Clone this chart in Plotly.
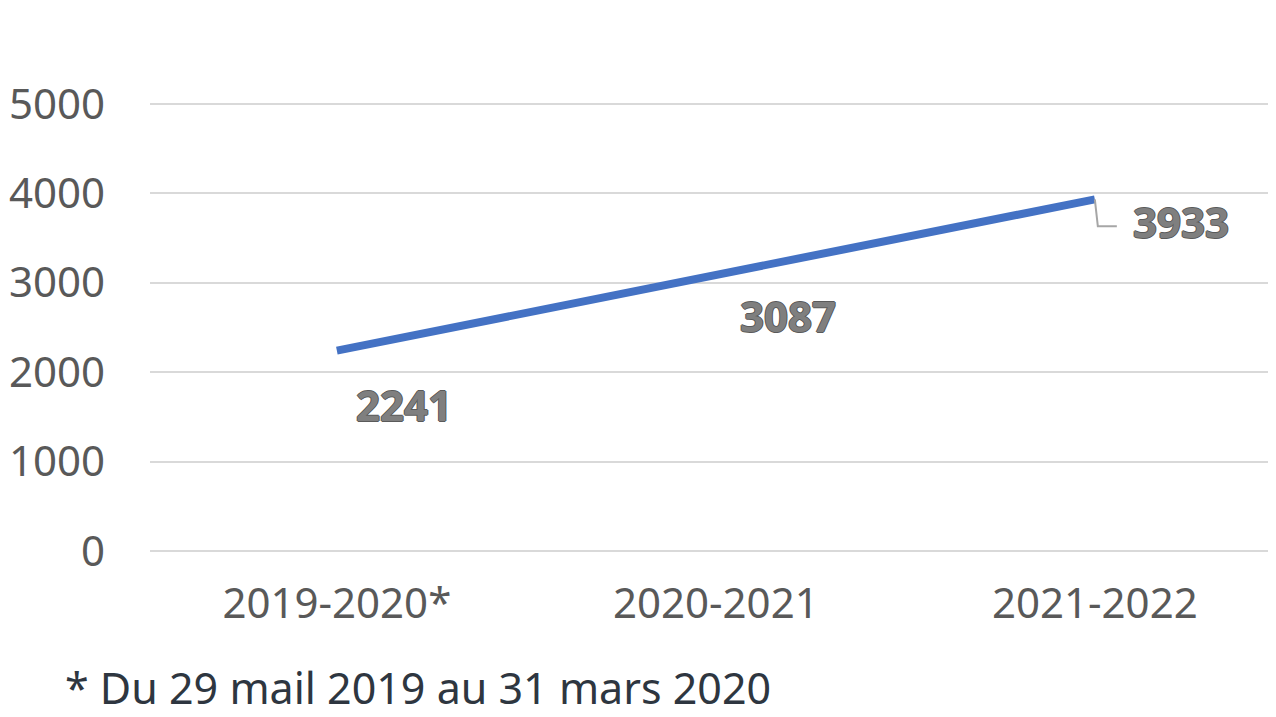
import plotly.graph_objects as go

# data
years = ["2019-2020*", "2020-2021", "2021-2022"]
counts = [2241, 3087, 3933]
y_ticks = [0, 1000, 2000, 3000, 4000, 5000]
footnote = "* Du 29 mail 2019 au 31 mars 2020"

font_name = "Noto Sans"

fig = go.Figure()
fig.add_trace(go.Scatter(
    x=list(range(len(years))), y=counts, mode="lines",
    line=dict(color="#4472C4", width=8), hoverinfo="skip",
))

# label offsets in pixels (right, up)
shifts = [(67, -54), (72, -41), (86, -22)]
outline = "1px 0 0 #5a5a5a, -1px 0 0 #5a5a5a, 0 1px 0 #5a5a5a, 0 -1px 0 #5a5a5a"
for i, v in enumerate(counts):
    fig.add_annotation(
        x=i, y=v, text=str(v), showarrow=False,
        xshift=shifts[i][0], yshift=shifts[i][1],
        font=dict(family=font_name, size=42, color="#7f7f7f", weight="bold", shadow=outline),
    )

# leader line for the last label
fig.add_shape(
    type="path", xref="x", yref="y", xsizemode="pixel", ysizemode="pixel",
    xanchor=len(counts) - 1, yanchor=counts[-1],
    path="M 0 0 L 3 -27 L 22 -27",
    line=dict(color="#a6a6a6", width=2),
)

fig.add_annotation(
    x=-0.077, y=-0.30, xref="paper", yref="paper", text=footnote,
    showarrow=False, xanchor="left", yanchor="middle",
    font=dict(family=font_name, size=43, color="#2e3640"),
)

fig.update_layout(
    width=1268, height=709,
    margin=dict(l=142, r=0, t=87, b=166),
    paper_bgcolor="white", plot_bgcolor="white",
    showlegend=False,
    font=dict(family=font_name, color="#595959"),
    xaxis=dict(
        tickmode="array", tickvals=list(range(len(years))), ticktext=years,
        range=[-0.493, 2.478], showgrid=False, zeroline=False, showline=False,
        tickfont=dict(size=42, color="#595959"), ticklabelstandoff=24,
    ),
    yaxis=dict(
        range=[0, 5100], tickvals=y_ticks, showgrid=True, gridcolor="#d9d9d9",
        gridwidth=2, zeroline=True, zerolinecolor="#d9d9d9", zerolinewidth=2,
        tickfont=dict(size=42, color="#595959"), ticklabelstandoff=44,
    ),
)

fig.write_html("out.html")
